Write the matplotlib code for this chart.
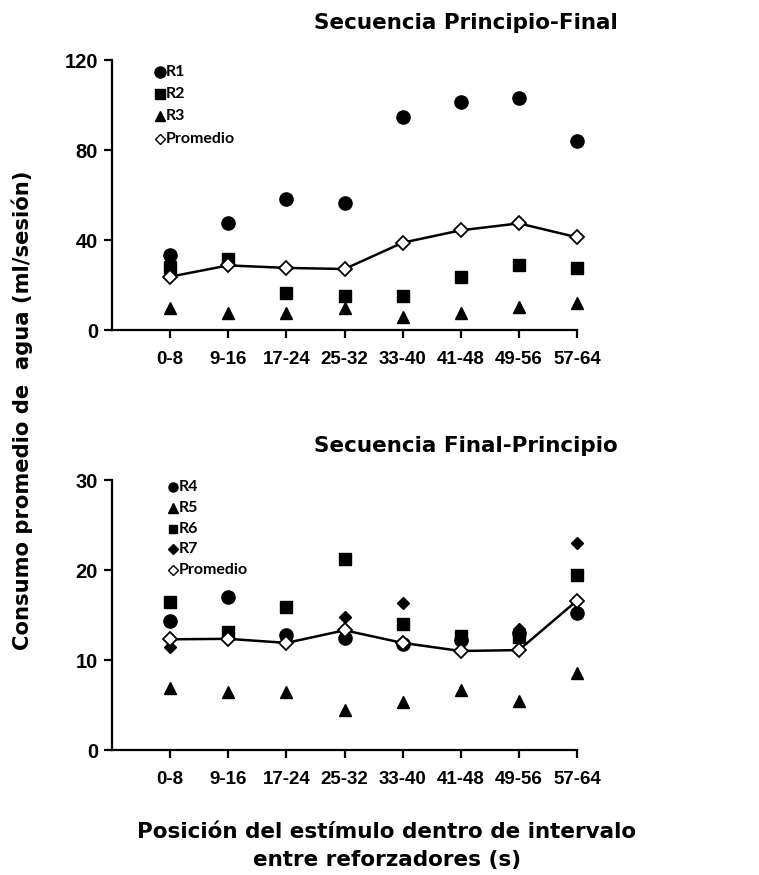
import matplotlib
matplotlib.use("Agg")
import matplotlib.pyplot as plt
from matplotlib.lines import Line2D

categories = ["0-8", "9-16", "17-24", "25-32", "33-40", "41-48", "49-56", "57-64"]

# Secuencia Principio-Final
r1 = [33.3, 47.7, 58.4, 56.3, 94.5, 101.5, 103.0, 84.0]
r2 = [28.1, 31.4, 16.3, 15.3, 15.3, 23.4, 28.7, 27.4]
r3 = [9.6, 7.4, 7.4, 9.6, 5.9, 7.4, 10.4, 12.1]
prom_top = [23.7, 28.7, 27.6, 27.1, 38.8, 44.3, 47.4, 41.2]

# Secuencia Final-Principio
r4 = [14.3, 17.0, 12.8, 12.4, 11.8, 12.2, 13.0, 15.2]
r5 = [6.85, 6.5, 6.5, 4.5, 5.3, 6.7, 5.4, 8.6]
r6 = [16.5, 13.1, 15.9, 21.2, 14.0, 12.7, 12.6, 19.4]
r7 = [11.4, 12.6, 12.4, 14.8, 16.3, 12.4, 13.5, 23.0]
prom_bot = [12.3, 12.35, 11.9, 13.3, 11.9, 11.0, 11.1, 16.6]

top_yticks = [0, 40, 80, 120]
bot_yticks = [0, 10, 20, 30]

W, H = 759, 875
fig = plt.figure(figsize=(W / 100, H / 100), dpi=100)
labfont = dict(family="DejaVu Sans", weight="bold")
legfont = dict(family="Lato", weight="bold", size=11.5)

x = list(range(1, len(categories) + 1))

def style_ax(ax, yticks):
    for s in ["top", "right"]:
        ax.spines[s].set_visible(False)
    for s in ["left", "bottom"]:
        ax.spines[s].set_linewidth(1.6)
    ax.set_xlim(0, len(categories))
    ax.set_ylim(yticks[0], yticks[-1])
    ax.set_yticks(yticks)
    ax.set_xticks(x)
    ax.set_xticklabels(categories)
    ax.tick_params(axis="both", direction="out", length=6, width=1.6)
    ax.tick_params(axis="x", pad=9, labelsize=13.5)
    ax.tick_params(axis="y", pad=4, labelsize=14.5)
    for lab in ax.get_xticklabels() + ax.get_yticklabels():
        lab.set_fontfamily("Liberation Sans")
        lab.set_fontweight("bold")

def add_legend(fig, items, x0, y0, dy):
    for i, (mk, ms, fc, label) in enumerate(items):
        yy = y0 + i * dy
        fig.add_artist(Line2D([x0 / W], [1 - yy / H], marker=mk, markersize=ms,
                              markerfacecolor=fc, markeredgecolor="black",
                              markeredgewidth=1.0, linestyle="none",
                              transform=fig.transFigure))
        fig.text((x0 + 6) / W, 1 - yy / H, label, va="center", ha="left", **legfont)

# Top axes
ax1 = fig.add_axes([112 / W, 1 - 330 / H, 465 / W, 270 / H])
ax1.plot(x, r1, "o", color="black", markersize=9.5, clip_on=False, zorder=3)
ax1.plot(x, r2, "s", color="black", markersize=8.5, clip_on=False, zorder=3)
ax1.plot(x, r3, "^", color="black", markersize=8.5, clip_on=False, zorder=3)
ax1.plot(x, prom_top, "-D", color="black", linewidth=1.8, markersize=7,
         markerfacecolor="white", markeredgecolor="black", markeredgewidth=1.3,
         clip_on=False, zorder=4)
style_ax(ax1, top_yticks)
add_legend(fig, [("o", 8, "black", "R1"), ("s", 7.5, "black", "R2"),
                 ("^", 7, "black", "R3"), ("D", 5.5, "white", "Promedio")],
           160, 72, 22.2)

# Bottom axes
ax2 = fig.add_axes([112 / W, 1 - 750 / H, 465 / W, 270 / H])
ax2.plot(x, r4, "o", color="black", markersize=9.5, clip_on=False, zorder=3)
ax2.plot(x, r5, "^", color="black", markersize=8.5, clip_on=False, zorder=3)
ax2.plot(x, r6, "s", color="black", markersize=8.5, clip_on=False, zorder=3)
ax2.plot(x, r7, "D", color="black", markersize=6.5, clip_on=False, zorder=3)
ax2.plot(x, prom_bot, "-D", color="black", linewidth=1.8, markersize=7,
         markerfacecolor="white", markeredgecolor="black", markeredgewidth=1.3,
         clip_on=False, zorder=4)
style_ax(ax2, bot_yticks)
add_legend(fig, [("o", 6.5, "black", "R4"), ("^", 6.5, "black", "R5"),
                 ("s", 6, "black", "R6"), ("D", 5, "black", "R7"),
                 ("D", 5, "white", "Promedio")],
           173, 487, 20.8)

# Titles
fig.text(466 / W, 1 - 23 / H, "Secuencia Principio-Final", ha="center", va="center",
         fontsize=15.5, **labfont)
fig.text(466 / W, 1 - 446 / H, "Secuencia Final-Principio", ha="center", va="center",
         fontsize=15.5, **labfont)

# Axis labels
fig.text(22 / W, 1 - 410 / H, "Consumo promedio de  agua (ml/sesión)", rotation=90,
         ha="center", va="center", fontsize=15.2, **labfont)
fig.text(387 / W, 1 - 832 / H, "Posición del estímulo dentro de intervalo",
         ha="center", va="center", fontsize=15.5, **labfont)
fig.text(387 / W, 1 - 860 / H, "entre reforzadores (s)",
         ha="center", va="center", fontsize=15.5, **labfont)

fig.savefig("out.png", dpi=100)
